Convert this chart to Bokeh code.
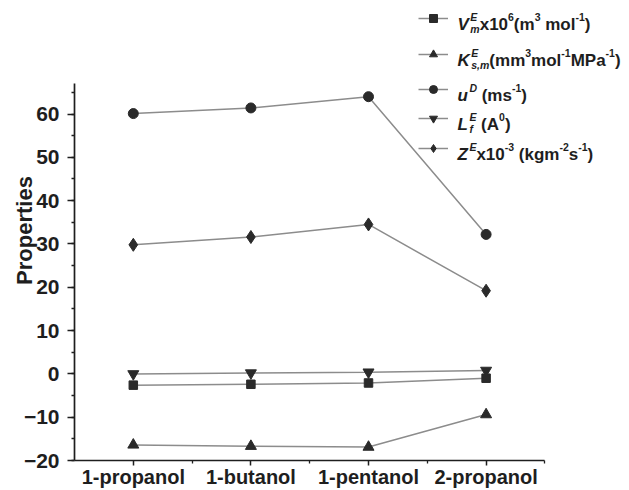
from bokeh.plotting import figure
from bokeh.models import Range1d, SingleIntervalTicker, FixedTicker, Legend, LegendItem, Label
from bokeh.core.properties import value
from bokeh.embed import file_html
from bokeh.resources import INLINE

# ---------------- data ----------------
categories = ["1-propanol", "1-butanol", "1-pentanol", "2-propanol"]
v_e = [-2.6, -2.4, -2.1, -1.0]        # V^E_m x10^6 (m^3 mol^-1)
k_e = [-16.4, -16.7, -16.9, -9.4]     # K^E_s,m (mm^3 mol^-1 MPa^-1)
u_d = [60.1, 61.4, 64.0, 32.2]        # u^D (m s^-1)
l_f = [0.0, 0.2, 0.4, 0.8]            # L^E_f (A^0)
z_e = [29.8, 31.6, 34.5, 19.2]        # Z^E x10^-3 (kg m^-2 s^-1)
y_tick_step = 10
y_axis_min, y_axis_max = -20, 67

idx = list(range(len(categories)))

# ---------------- layout constants ----------------
W, H = 629, 490
FL = 74          # frame left (px)
FB = 462         # frame bottom (px)
PX_X = 117.6     # px per category
PX_Y = 4.35      # px per y unit

x_start = -0.5
x_end = x_start + (W - FL) / PX_X
y_end = y_axis_min + FB / PX_Y

p = figure(width=W, height=H, output_backend="svg", toolbar_location=None,
           x_range=Range1d(x_start, x_end), y_range=Range1d(y_axis_min, y_end),
           min_border_left=FL, min_border_right=0, min_border_top=0,
           min_border_bottom=H - FB)
p.xgrid.visible = False
p.ygrid.visible = False
p.outline_line_color = None
p.background_fill_color = "white"
p.border_fill_color = "white"

LINE_C = "#8c8c8c"
MARK_C = "#2a2a2a"
AX_C = "#1e1e1e"
FONT = "Liberation Sans"

# (values, marker, size)
series = [
    (v_e, "square", 8.5),
    (k_e, "triangle", 11),
    (u_d, "circle", 10),
    (l_f, "inverted_triangle", 11),
    (z_e, "diamond", 13),
]
renderers = []
for vals, mk, sz in series:
    rl = p.line(idx, vals, line_color=LINE_C, line_width=1.5)
    rs = p.scatter(idx, vals, marker=mk, size=sz, fill_color=MARK_C, line_color=MARK_C)
    renderers.append((rl, rs))

# ---------------- axes ----------------
xa = p.xaxis[0]
xa.ticker = FixedTicker(ticks=idx, minor_ticks=[i + 0.5 for i in idx])
xa.major_label_overrides = {i: c for i, c in zip(idx, categories)}
xa.bounds = (x_start, len(categories) - 0.5)
ya = p.yaxis[0]
ya.ticker = SingleIntervalTicker(interval=y_tick_step, num_minor_ticks=2)
ya.bounds = (y_axis_min, y_axis_max)
ya.axis_label = "Properties"
for ax in (xa, ya):
    ax.axis_line_color = AX_C
    ax.axis_line_width = 1.7
    ax.major_tick_line_color = AX_C
    ax.minor_tick_line_color = AX_C
    ax.major_tick_line_width = 1.5
    ax.minor_tick_line_width = 1.3
    ax.major_tick_in = 0
    ax.minor_tick_in = 0
    ax.minor_tick_out = 3
    ax.major_label_text_font = FONT
    ax.major_label_text_font_style = "bold"
    ax.major_label_text_color = AX_C
xa.major_label_text_font_size = "20px"
ya.major_label_text_font_size = "21px"
xa.major_tick_out = 5
xa.major_label_standoff = 0
ya.major_tick_out = 7
ya.major_label_standoff = 8
ya.axis_label_text_font = FONT
ya.axis_label_text_font_size = "22px"
ya.axis_label_text_font_style = "bold"
ya.axis_label_text_color = AX_C
ya.axis_label_standoff = -16

# ---------------- legend (glyph samples) + rich-text labels ----------------
ARIAL_BOLD = {' ': 278, '(': 333, ')': 333, ',': 278, '-': 333, 'A': 722, 'D': 722, 'E': 667,
              'K': 722, 'L': 611, 'M': 833, 'P': 667, 'V': 667, 'Z': 611, 'a': 556, 'f': 333,
              'g': 611, 'k': 556, 'l': 278, 'm': 889, 'o': 611, 's': 556, 'u': 611, 'x': 556}


def text_w(t, size):
    return sum(ARIAL_BOLD.get(c, 556) for c in t) / 1000.0 * size


F = 17      # main legend font
S = 10.5    # script font
row_y = [20, 56, 91, 120, 150]
glyph_x0 = 418
text_x0 = 457

# (text, role, italic, advance)
rows = [
    [("V", "m", True, True), ("E", "sup", True, False), ("m", "sub", True, True),
     ("x10", "m", False, True), ("6", "sup", False, True), ("(m", "m", False, True),
     ("3", "sup", False, True), (" mol", "m", False, True), ("-1", "sup", False, True),
     (")", "m", False, True)],
    [("K", "m", True, True), ("E", "sup", True, False), ("s,m", "sub", True, True),
     ("(mm", "m", False, True), ("3", "sup", False, True), ("mol", "m", False, True),
     ("-1", "sup", False, True), ("MPa", "m", False, True), ("-1", "sup", False, True),
     (")", "m", False, True)],
    [("u", "m", True, True), ("D", "sup", True, True), (" (ms", "m", False, True),
     ("-1", "sup", False, True), (")", "m", False, True)],
    [("L", "m", True, True), ("E", "sup", True, False), ("f", "sub", True, True),
     (" (A", "m", False, True), ("0", "sup", False, True), (")", "m", False, True)],
    [("Z", "m", True, True), ("E", "sup", True, True), ("x10", "m", False, True),
     ("-3", "sup", False, True), (" (kgm", "m", False, True), ("-2", "sup", False, True),
     ("s", "m", False, True), ("-1", "sup", False, True), (")", "m", False, True)],
]

GW, GH = 30, 20
for (rl, rs), cy, pieces in zip(renderers, row_y, rows):
    leg = Legend(items=[LegendItem(label=value(""), renderers=[rl, rs])],
                 location=(glyph_x0 - FL, FB - (cy + GH / 2)),
                 padding=0, margin=0, spacing=0, glyph_width=GW, glyph_height=GH,
                 label_height=GH, label_width=0, label_standoff=0,
                 label_text_font_size="1px", border_line_color=None,
                 background_fill_alpha=0)
    p.add_layout(leg)

    base = cy + 0.36 * F
    x = text_x0
    pending = 0.0
    after_italic = False
    for t, role, it, adv in pieces:
        size = F if role == "m" else S
        yb = base if role == "m" else (base - 7.5 if role == "sup" else base + 4)
        # leading spaces collapse in SVG text: turn them into an x advance
        lead = len(t) - len(t.lstrip(" "))
        if lead:
            x += text_w(t[:lead], size)
            t = t[lead:]
        xx = x + (1.5 if (role != "m" and after_italic) else 0)
        p.add_layout(Label(x=xx - FL, y=FB - yb, x_units="screen", y_units="screen",
                           text=t, text_font=FONT, text_font_size=f"{size}px",
                           text_font_style="bold italic" if it else "bold",
                           text_baseline="alphabetic", text_align="left",
                           text_color=AX_C))
        w = text_w(t, size) + (xx - x)
        if adv:
            x += max(w, pending)
            pending = 0.0
            after_italic = (role == "m" and it)
        else:
            pending = max(pending, w)

open("out.html", "w").write(file_html(p, INLINE))
